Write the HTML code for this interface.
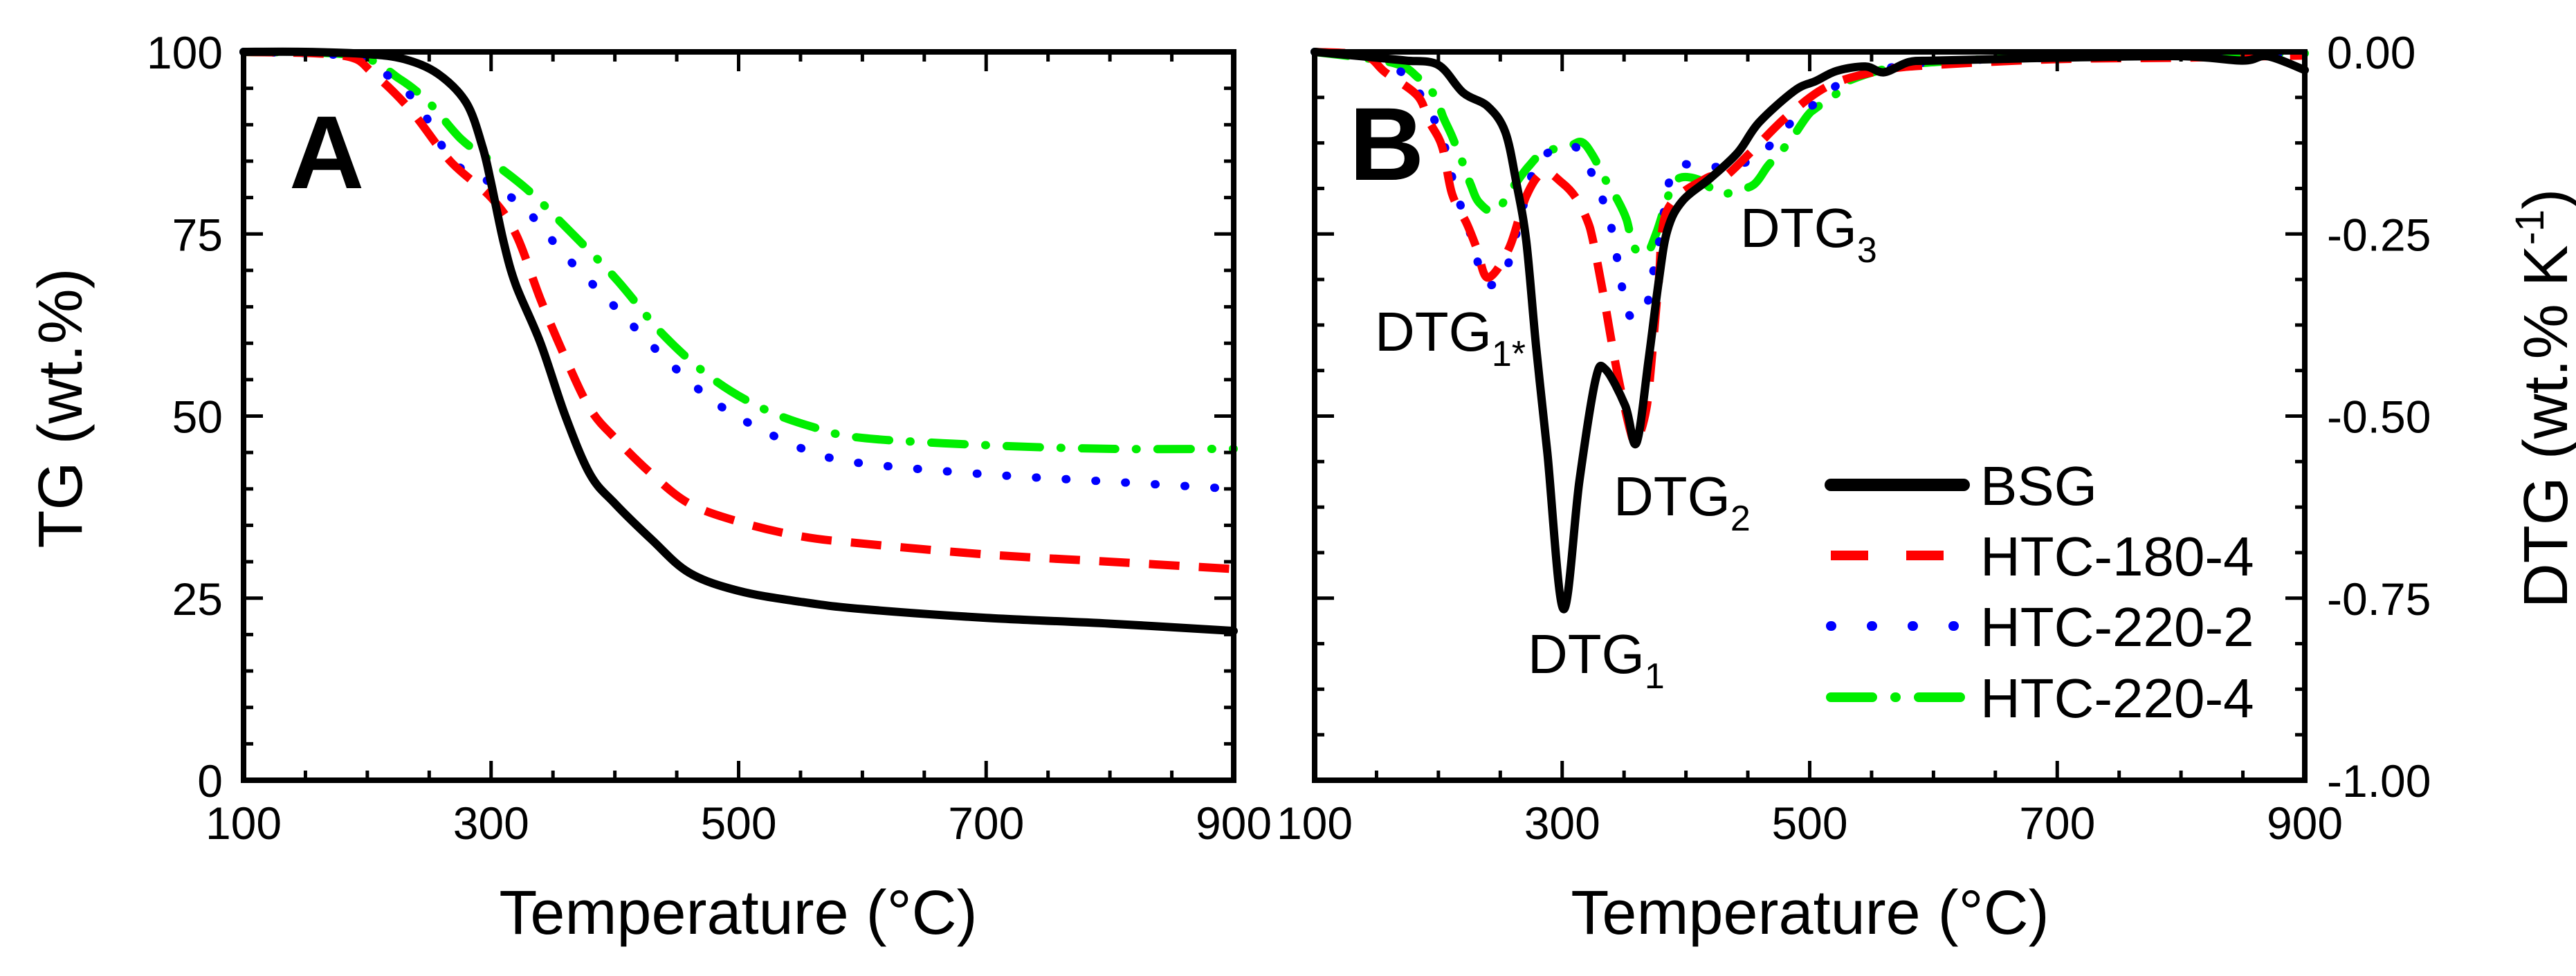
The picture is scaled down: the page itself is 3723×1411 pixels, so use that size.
<!DOCTYPE html>
<html><head><meta charset="utf-8"><style>
html,body{margin:0;padding:0;background:#fff}
svg{display:block;font-family:"Liberation Sans",Arial,sans-serif}
</style></head><body>
<svg id="chart" width="3723" height="1411" viewBox="0 0 3723 1411" xmlns="http://www.w3.org/2000/svg">
<g id="panelA"></g>
<g id="panelB"></g>
<text x="418" y="272" font-size="150" font-weight="bold">A</text>
<text x="1950" y="260" font-size="150" font-weight="bold">B</text>
<text x="1067" y="1350" font-size="90" text-anchor="middle">Temperature (°C)</text>
<text x="2616" y="1350" font-size="90" text-anchor="middle">Temperature (°C)</text>
<text transform="translate(118,590) rotate(-90)" font-size="90" text-anchor="middle">TG (wt.%)</text>
<text transform="translate(3710,576) rotate(-90)" font-size="90" text-anchor="middle">DTG (wt.% K<tspan font-size="58" dy="-34">-1</tspan><tspan dy="34">)</tspan></text>
<text x="1987" y="507" font-size="80">DTG<tspan font-size="52" dy="22">1*</tspan></text>
<text x="2208" y="973" font-size="80">DTG<tspan font-size="52" dy="22">1</tspan></text>
<text x="2332" y="745" font-size="80">DTG<tspan font-size="52" dy="22">2</tspan></text>
<text x="2515" y="357" font-size="80">DTG<tspan font-size="52" dy="22">3</tspan></text>
<g id="legend"></g>
</svg>
<script>
// ---- data ----
const seriesNames = ["BSG","HTC-180-4","HTC-220-2","HTC-220-4"];
const tgT_BSG = [100,150,200,230,257,280,293,300,310,320,340,360,380,400,430,460,500,550,600,700,800,900];
const tgV_BSG = [100,100,99.7,99,97,93,87,82,74,68,60,50,42,38,33,28.5,26,24.5,23.5,22.3,21.5,20.5];
const tgT_180 = [100,180,205,235,267,300,320,340,360,380,400,430,460,500,550,600,700,800,900];
const tgV_180 = [100,99.5,97,92,85,80,75,66,58,51,47,42,38,35.5,33.5,32.5,31,30,29];
const tgT_2202 = [100,180,210,240,269,300,330,360,400,440,480,520,560,600,700,800,900];
const tgV_2202 = [100,99.5,97.5,93,85,82,78,72,65,58,52,48,45,43.5,42,41,40];
const tgT_2204 = [100,190,226,250,276,300,330,360,400,440,480,520,560,600,700,800,900];
const tgV_2204 = [100,99.5,96.3,93,88,85,81,76,69,61,55,51,48.5,47,46,45.5,45.5];

const dtgT_BSG = [100,150,174,200,220,240,254,263,271,279,288,301,314,327,335,351,360,370,378,385,397,420,442,459,488,505,522,545,560,580,600,650,700,800,850,870,900];
const dtgV_BSG = [0,-0.008,-0.012,-0.018,-0.056,-0.075,-0.11,-0.18,-0.26,-0.406,-0.55,-0.765,-0.588,-0.45,-0.436,-0.486,-0.537,-0.42,-0.315,-0.245,-0.205,-0.173,-0.138,-0.097,-0.053,-0.04,-0.026,-0.02,-0.028,-0.014,-0.012,-0.01,-0.008,-0.006,-0.012,-0.006,-0.025];
const dtgT_180 = [100,140,157,183,192,203,211,223,231,240,257,271,285,300,311,320,325,334,344,355,360,368,373,378,385,417,430,454,482,516,560,600,700,800,900];
const dtgV_180 = [0,-0.005,-0.028,-0.06,-0.094,-0.13,-0.195,-0.236,-0.27,-0.31,-0.27,-0.198,-0.165,-0.18,-0.2,-0.23,-0.26,-0.34,-0.436,-0.52,-0.535,-0.49,-0.41,-0.315,-0.217,-0.173,-0.173,-0.135,-0.088,-0.046,-0.025,-0.018,-0.01,-0.008,-0.005];
const dtgT_2202 = [100,146,172,184,197,206,214,223,230,238,252,260,267,273,283,308,320,331,339,344,348,355,367,373,379,389,405,420,442,461,476,493,512,528,570,620,700,800,900];
const dtgV_2202 = [0,-0.009,-0.03,-0.055,-0.094,-0.135,-0.192,-0.233,-0.277,-0.318,-0.31,-0.268,-0.223,-0.182,-0.145,-0.129,-0.154,-0.195,-0.236,-0.28,-0.32,-0.363,-0.354,-0.307,-0.255,-0.164,-0.155,-0.158,-0.155,-0.14,-0.112,-0.085,-0.062,-0.04,-0.02,-0.012,-0.008,-0.005,-0.003];
const dtgT_2204 = [100,163,184,197,204,211,220,226,233,246,260,273,285,306,316,325,337,345,352,358,368,376,387,395,411,427,441,455,466,475,485,498,506,525,531,570,620,700,800,900];
const dtgV_2204 = [0,-0.015,-0.036,-0.06,-0.09,-0.116,-0.154,-0.182,-0.207,-0.219,-0.186,-0.157,-0.138,-0.129,-0.124,-0.143,-0.182,-0.204,-0.23,-0.268,-0.277,-0.249,-0.192,-0.173,-0.176,-0.195,-0.19,-0.182,-0.157,-0.14,-0.12,-0.088,-0.076,-0.053,-0.04,-0.02,-0.012,-0.006,-0.003,-0.002];

const xTickLabels = ["100","300","500","700","900"];
const xTickValues = [100,300,500,700,900];
const tgTickValues = [0,25,50,75,100];
const tgTickLabels = ["0","25","50","75","100"];
const dtgTickValues = [0,-0.25,-0.5,-0.75,-1];
const dtgTickLabels = ["0.00","-0.25","-0.50","-0.75","-1.00"];

// ---- layout ----
const NS = "http://www.w3.org/2000/svg";
const yTop = 75, yBot = 1128;
const A = {x0:352, x1:1783};
const B = {x0:1900, x1:1900+1431};
const styles = [
  {color:"#000", dash:"", cap:"round"},
  {color:"#ff0000", dash:"44 28", cap:"butt"},
  {color:"#0000ff", dash:"1 42", cap:"round"},
  {color:"#00ee00", dash:"48 30 1 30", cap:"round"}
];
function xs(p, T){ return p.x0 + (T-100)/800*(p.x1-p.x0); }
function yA(v){ return yBot - v/100*(yBot-yTop); }
function yB(v){ return yTop + (-v)*(yBot-yTop); }
function mk(tag, attrs, parent){
  const e = document.createElementNS(NS, tag);
  for (const k in attrs) e.setAttribute(k, attrs[k]);
  parent.appendChild(e); return e;
}
function drawFrame(g, p, ytickVals, minorCount, yfn, labels, leftLabels, name){
  const L = p.x0, R = p.x1;
  for (let T=100; T<=900; T+=50){
    const major = (T-100)%200===0;
    const len = major?28:14, x = xs(p,T);
    const t1 = mk("line",{x1:x,y1:yBot,x2:x,y2:yBot-len,stroke:"#000","stroke-width":5},g);
    
    
    const t2 = mk("line",{x1:x,y1:yTop,x2:x,y2:yTop+len,stroke:"#000","stroke-width":5},g);
    
    
  }
  xTickValues.forEach((T,i)=>{
    const t = mk("text",{x:xs(p,T),y:1213,"font-size":66,"text-anchor":"middle"},g);
    t.textContent = xTickLabels[i];
    
    
  });
  for (let i=0;i<ytickVals.length-1;i++){
    for (let j=0;j<minorCount;j++){
      const v = ytickVals[i] + (ytickVals[i+1]-ytickVals[i])*j/minorCount;
      const y = yfn(v), len = j===0?28:14;
      if (j===0 && i===0) continue;
      const a = mk("line",{x1:L,y1:y,x2:L+len,y2:y,stroke:"#000","stroke-width":5},g);
      
      
      const b = mk("line",{x1:R,y1:y,x2:R-len,y2:y,stroke:"#000","stroke-width":5},g);
      
      
    }
  }
  ytickVals.forEach((v,i)=>{
    const t = leftLabels
      ? mk("text",{x:L-30,y:yfn(v)+24,"font-size":66,"text-anchor":"end"},g)
      : mk("text",{x:R+32,y:yfn(v)+24,"font-size":66,"text-anchor":"start"},g);
    t.textContent = labels[i];
    
    
  });
  const fr = mk("rect",{x:L,y:yTop,width:R-L,height:yBot-yTop,fill:"none",stroke:"#000","stroke-width":8},g);
  
  
}
function drawSeries(g, p, Ts, Vs, yfn, st, name){
  const P = Ts.map((T,i)=>[xs(p,T), yfn(Vs[i])]);
  let d = "M" + P[0][0].toFixed(1) + "," + P[0][1].toFixed(1);
  for (let i=0;i<P.length-1;i++){
    const p0 = P[i-1]||P[i], p1 = P[i], p2 = P[i+1], p3 = P[i+2]||P[i+1];
    const k = 1/6;
    const c1 = [p1[0]+(p2[0]-p0[0])*k, p1[1]+(p2[1]-p0[1])*k];
    const c2 = [p2[0]-(p3[0]-p1[0])*k, p2[1]-(p3[1]-p1[1])*k];
    d += "C" + c1[0].toFixed(1)+","+c1[1].toFixed(1)+" "+c2[0].toFixed(1)+","+c2[1].toFixed(1)+" "+p2[0].toFixed(1)+","+p2[1].toFixed(1);
  }
  const path = mk("path",{d:d,fill:"none",stroke:st.color,"stroke-width":12,"stroke-linejoin":"round","stroke-linecap":st.cap,"stroke-dasharray":st.dash||"none"},g);
  
  
}
const gA = document.getElementById("panelA"), gB = document.getElementById("panelB");
const tgT = [tgT_BSG,tgT_180,tgT_2202,tgT_2204], tgV = [tgV_BSG,tgV_180,tgV_2202,tgV_2204];
const dT = [dtgT_BSG,dtgT_180,dtgT_2202,dtgT_2204], dV = [dtgV_BSG,dtgV_180,dtgV_2202,dtgV_2204];
for (let i=3;i>=0;i--) drawSeries(gA, A, tgT[i], tgV[i], yA, styles[i], "tg-line-"+seriesNames[i].toLowerCase());
for (let i=3;i>=0;i--) drawSeries(gB, B, dT[i], dV[i], yB, styles[i], "dtg-line-"+seriesNames[i].toLowerCase());
drawFrame(gA, A, tgTickValues, 5, yA, tgTickLabels, true, "panel-a");
drawFrame(gB, B, dtgTickValues, 4, yB, dtgTickLabels, false, "panel-b");

const lg = document.getElementById("legend");
const legY = [701,803,905,1008];
const legDash = ["none","54 55","1 58","60 33 1 33"];
seriesNames.forEach((n,i)=>{
  const st = styles[i];
  const ln = mk("line",{x1:2646,y1:legY[i],x2:2838,y2:legY[i],stroke:st.color,"stroke-width":i===0?18:14,"stroke-linecap":st.cap,"stroke-dasharray":legDash[i]},lg);
  
  
  const t = mk("text",{x:2862,y:legY[i]+29,"font-size":80},lg);
  t.textContent = n;
  
  
});
</script>
</body></html>
